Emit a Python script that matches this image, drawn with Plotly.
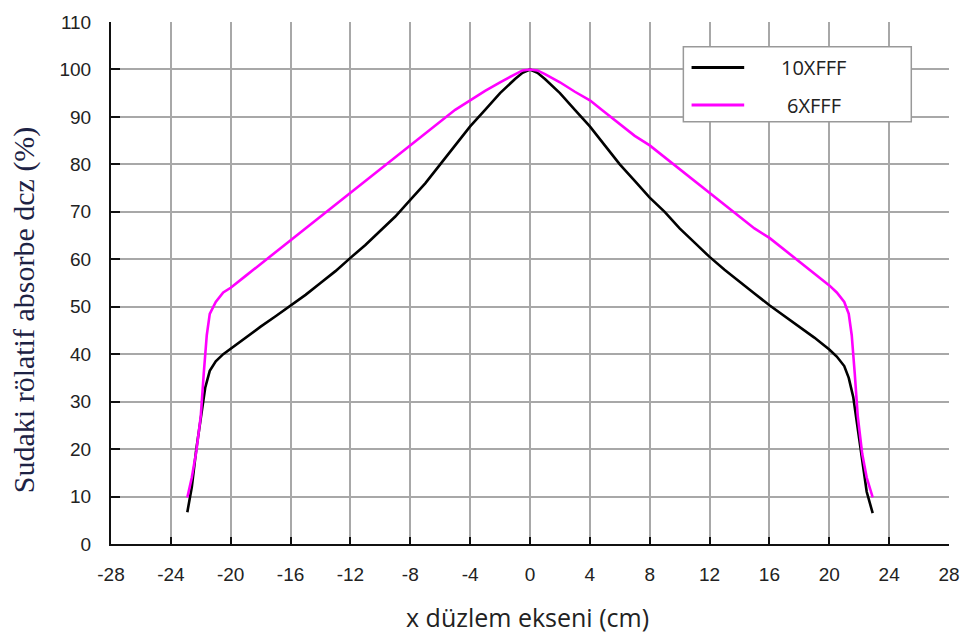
import plotly.graph_objects as go

# 10XFFF (black) profile
x10 = [-22.9, -22.6, -22.3, -22.0, -21.7, -21.4, -21.0, -20.5, -20.0, -19, -18, -17, -16, -15, -14, -13,
       -12, -11, -10, -9, -8, -7, -6, -5, -4, -3, -2, -1, -0.5, 0, 0.5, 1, 2, 3, 4, 5, 6, 7, 8, 9, 10,
       11, 12, 13, 14, 15, 16, 17, 18, 19, 20, 20.5, 21.0, 21.3, 21.6, 21.9, 22.2, 22.5, 22.9]
y10 = [6.7, 12, 20, 27, 33, 36.5, 38.5, 40, 41.2, 43.5, 45.8, 48, 50.2, 52.5, 55, 57.5,
       60.3, 63, 66, 69, 72.5, 76, 80, 84, 88, 91.5, 95, 98, 99.3, 100, 99.3, 98, 95, 91.5, 88, 84, 80, 76.5, 73, 70, 66.5,
       63.5, 60.5, 57.8, 55.2, 52.8, 50.3, 48, 45.8, 43.5, 41, 39.5, 37.5, 35, 31, 24, 17, 11, 6.5]

# 6XFFF (magenta) profile
x6 = [-22.9, -22.6, -22.3, -22.0, -21.8, -21.6, -21.4, -21.0, -20.5, -20, -19, -18, -17, -16, -15, -14,
      -13, -12, -11, -10, -9, -8, -7, -6, -5, -4, -3, -2, -1, -0.5, 0, 0.5, 1, 2, 3, 4, 5, 6, 7, 8, 9,
      10, 11, 12, 13, 14, 15, 16, 17, 18, 19, 20, 20.5, 21, 21.3, 21.5, 21.7, 21.9, 22.2, 22.5, 22.9]
y6 = [9.8, 14, 19.5, 27, 36, 44, 48.5, 51, 53, 54, 56.5, 59, 61.5, 64, 66.5, 69,
      71.5, 74, 76.5, 79, 81.5, 84, 86.5, 89, 91.5, 93.5, 95.5, 97.3, 99, 99.8, 100, 99.8, 99, 97.3, 95.3, 93.5, 91, 88.5, 86, 84, 81.5,
      79, 76.5, 74, 71.5, 69, 66.5, 64.5, 62, 59.5, 57, 54.5, 53, 51, 48.5, 44, 36, 27, 19, 14, 9.8]

series_names = ["10XFFF", "6XFFF"]
series_colors = ["#000000", "#ff00ff"]

x_ticks = list(range(-28, 29, 4))
y_ticks = list(range(0, 111, 10))

x_title = "x düzlem ekseni (cm)"
y_title = "Sudaki rölatif absorbe dcz (%)"

fig = go.Figure()
for xs, ys, name, col in [(x10, y10, series_names[0], series_colors[0]), (x6, y6, series_names[1], series_colors[1])]:
    fig.add_trace(go.Scatter(x=xs, y=ys, mode="lines", name=name, line=dict(color=col, width=2.6), showlegend=False))

fig.update_layout(
    width=972, height=638,
    margin=dict(l=111, r=18, t=16, b=94),
    paper_bgcolor="white", plot_bgcolor="white",
    font=dict(family="Liberation Sans", size=19, color="#222"),
)
fig.update_xaxes(
    range=[-28, 28], tickvals=x_ticks, ticktext=[str(v) for v in x_ticks],
    showgrid=True, gridcolor="#a8a8a8", gridwidth=1.5,
    showline=True, linecolor="#111", linewidth=2,
    ticks="inside", ticklen=7, tickwidth=2, tickcolor="#111",
    zeroline=False, ticklabelstandoff=12,
    tickfont=dict(family="Liberation Sans", size=19, color="#222"),
)
fig.update_yaxes(
    range=[0, 110], tickvals=y_ticks, ticktext=[str(v) for v in y_ticks],
    showgrid=True, gridcolor="#a8a8a8", gridwidth=1.5,
    showline=True, linecolor="#111", linewidth=2,
    ticks="inside", ticklen=9, tickwidth=2, tickcolor="#111",
    zeroline=False, ticklabelstandoff=14,
    tickfont=dict(family="Liberation Sans", size=19, color="#222"),
)

# axis titles
fig.add_annotation(xref="paper", yref="paper", x=0.497, y=-0.140, text=x_title, showarrow=False,
                   xanchor="center", yanchor="middle", font=dict(family="Open Sans", size=25, color="#222"))
fig.add_annotation(xref="paper", yref="paper", x=-0.1044, y=0.4489, text=y_title, showarrow=False,
                   textangle=-90, xanchor="center", yanchor="middle",
                   font=dict(family="Liberation Serif", size=30, color="#1d2244"))

# legend box
fig.add_shape(type="rect", xref="paper", yref="paper", x0=0.683, x1=0.955, y0=0.8087, y1=0.9527,
              line=dict(color="#999999", width=1.5), fillcolor="white", layer="above")
leg_y = [0.9129, 0.8409]
for name, col, ly in zip(series_names, series_colors, leg_y):
    fig.add_shape(type="line", xref="paper", yref="paper", x0=0.6928, x1=0.7556, y0=ly, y1=ly,
                  line=dict(color=col, width=3), layer="above")
    fig.add_annotation(xref="paper", yref="paper", x=0.8387, y=ly, text=name, showarrow=False,
                       xanchor="center", yanchor="middle", font=dict(family="Open Sans", size=20, color="#222"))

fig.write_html("out.html")
